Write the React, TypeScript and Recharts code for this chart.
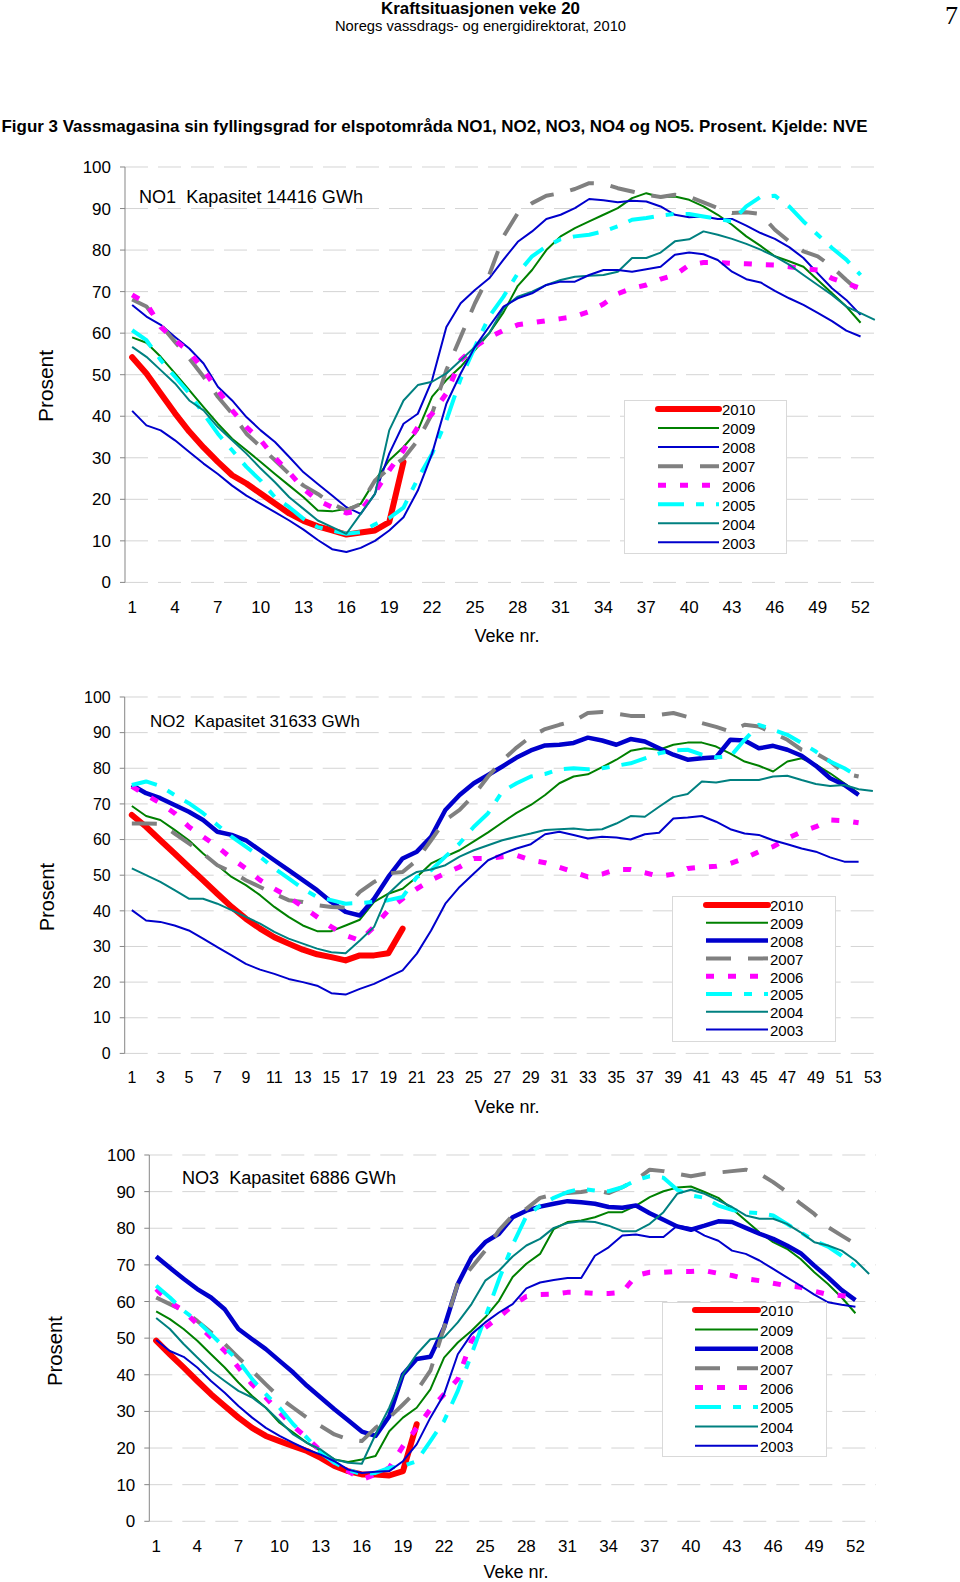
import React from 'react';
import { LineChart, Line, XAxis, YAxis, CartesianGrid } from 'recharts';

const FONT = "'Liberation Sans', Arial, Helvetica, sans-serif";

// ---------- categories / ticks ----------
const WEEKS: number[] = Array.from({ length: 53 }, (_, i) => i + 1);
const BOUNDARY_TICKS: number[] = [0.5, ...WEEKS.map((w) => w + 0.5)];
const Y_TICKS = [0, 10, 20, 30, 40, 50, 60, 70, 80, 90, 100];
const X_LABELS_3 = [1, 4, 7, 10, 13, 16, 19, 22, 25, 28, 31, 34, 37, 40, 43, 46, 49, 52];
const X_LABELS_2 = [1, 3, 5, 7, 9, 11, 13, 15, 17, 19, 21, 23, 25, 27, 29, 31, 33, 35, 37, 39, 41, 43, 45, 47, 49, 51, 53];
const YEARS = ['2010', '2009', '2008', '2007', '2006', '2005', '2004', '2003'];

// ---------- NO1 ----------
const no1_2010 = [54.2, 50.3, 45.5, 40.7, 36.3, 32.5, 29, 25.8, 23.8, 21.4, 19, 16.6, 14.8, 13.5, 12.5, 11.5, 12, 12.5, 14.5, 29];
const no1_2009 = [59, 57.7, 54.3, 50.3, 46.3, 42.2, 38.2, 34.6, 31.8, 29, 26.1, 23.3, 20.5, 17.3, 17.1, 17.7, 18.9, 24.5, 29.4, 32.6, 36.6, 44.7, 48.7, 51.9, 55.9, 60, 65, 71.4, 75.2, 80, 83.3, 85.3, 86.9, 88.5, 90.1, 92.5, 93.7, 92.7, 92.9, 92.1, 90.5, 88.5, 86.1, 83.3, 81, 78.5, 77.3, 76, 72.8, 69.6, 66.4, 62.5];
const no1_2008 = [66.8, 64, 62, 59.1, 56.3, 52.7, 47.1, 43.8, 39.8, 36.6, 33.8, 30.2, 26.5, 23.7, 20.9, 18.1, 16.5, 21.3, 31, 38.2, 40.6, 48.7, 61.5, 67.2, 70.4, 73.2, 77.7, 82, 84.5, 87.5, 88.5, 90.1, 92.3, 92, 91.5, 91.9, 91.7, 90.5, 88.5, 87.9, 88.1, 87.5, 87.5, 85.9, 84.1, 82.7, 80.7, 78.1, 74.4, 70.8, 68, 64.4];
const no1_2007 = [68.1, 66.4, 62, 57.9, 53.9, 49.5, 44.7, 40.6, 35.8, 32.6, 29.4, 26.1, 23.3, 21.3, 18.9, 17.3, 18.9, 24.5, 27.5, 29.8, 34.2, 40.6, 51.1, 59.1, 67.2, 74, 83.3, 88.9, 91.3, 93.1, 93.7, 94.7, 96.1, 96, 94.9, 94.1, 93.3, 92.8, 93.3, 92.8, 91.5, 90.1, 88.9, 89.1, 88.7, 84.9, 82.1, 79.7, 78.5, 76, 72.8, 69.8];
const no1_2006 = [69.2, 67.2, 61.5, 58.3, 55.5, 51.1, 46.3, 41.4, 37.4, 34.2, 30, 26.5, 22.5, 19.7, 18.1, 16.7, 17.3, 21.7, 27, 31.8, 37.4, 40.6, 45.5, 53.5, 56.7, 59, 60.7, 62, 62.5, 63, 63.5, 64, 65.2, 67, 69.5, 70.8, 71.6, 73, 74, 76.4, 77, 77, 76.8, 76.7, 76.5, 76.4, 76, 75.5, 75.2, 73.2, 72, 70.8];
const no1_2005 = [60.7, 58.3, 53.5, 49.5, 45.5, 40.6, 35.8, 31.8, 27.8, 24.5, 20.5, 18.1, 15.3, 13.3, 12.5, 11.7, 12.1, 14, 15.5, 18, 25, 31, 39, 49, 56.7, 64, 68.8, 74.4, 78.5, 80.9, 82.6, 83.3, 83.7, 84.5, 85.7, 87.3, 87.7, 88.3, 88.7, 88.7, 88.1, 87.5, 86.9, 90.5, 92.8, 93.1, 90.5, 86.9, 83.7, 80.5, 77.7, 74];
const no1_2004 = [56.7, 54.3, 51.1, 47.9, 43.8, 41.4, 37.4, 34.2, 31, 27.4, 24.1, 20.5, 17.7, 14.9, 13.3, 11.7, 16.5, 21.3, 36.6, 43.8, 47.5, 48.3, 50.3, 53.5, 56.7, 60, 66, 68.8, 70, 71.6, 72.8, 73.6, 73.8, 74, 74.8, 78.1, 78.1, 79.4, 82.1, 82.6, 84.5, 83.7, 82.7, 81.5, 80.1, 78.5, 76.5, 74, 71.6, 69.2, 66.4, 64.8, 63.2];
const no1_2003 = [41.3, 37.8, 36.6, 34.2, 31.4, 28.6, 26.1, 23.3, 20.9, 18.9, 16.9, 14.9, 12.7, 10.2, 8, 7.3, 8.3, 10, 12.5, 15.7, 22.1, 31, 43, 50.3, 56.7, 61.6, 66.4, 68.4, 69.6, 71.6, 72.4, 72.4, 74, 75.2, 75.2, 74.8, 75.4, 76, 78.9, 79.4, 79, 77.6, 74.8, 73, 72.2, 70.2, 68.4, 66.8, 64.9, 62.9, 60.6, 59.2];

// ---------- NO2 ----------
const no2_2010 = [66.9, 63.6, 59.8, 56.1, 52.3, 48.6, 44.8, 41.1, 37.8, 35, 32.6, 30.8, 29.1, 27.8, 27, 26.1, 27.5, 27.5, 28.1, 35];
const no2_2009 = [69.4, 66.6, 65.5, 62.7, 59.8, 56.1, 52.8, 49.5, 47.2, 44.4, 41.1, 38.3, 35.9, 34.3, 34.3, 35.9, 37.5, 42.5, 44.8, 46.2, 49.5, 53.3, 55.2, 57, 59.5, 62, 64.8, 67.5, 69.7, 72.5, 75.8, 77.7, 78.3, 80.3, 82.4, 84.9, 85.6, 85.2, 86.6, 87.2, 87.2, 86.1, 84.1, 81.9, 80.7, 79.1, 81.9, 82.8, 81, 78.6, 75.8, 73];
const no2_2008 = [75.3, 73, 71.6, 69.7, 67.8, 65.5, 62.2, 61.3, 59.8, 57, 54.2, 51.4, 48.6, 45.8, 42.5, 39.7, 38.7, 43.4, 49.5, 54.7, 56.6, 60.8, 68.3, 72.5, 75.8, 78.1, 80.5, 83, 85, 86.4, 86.6, 87.1, 88.6, 87.8, 86.6, 88.2, 87.5, 85.6, 83.8, 82.4, 82.8, 83.1, 88, 87.8, 85.6, 86.3, 85.2, 83.5, 80.7, 77.2, 75.3, 72.5];
const no2_2007 = [64.5, 64.5, 64.4, 61.7, 58.9, 56.1, 52.8, 50.9, 48.6, 46.7, 44.8, 43, 42.5, 41.6, 41.1, 40.9, 45.3, 48.1, 50.5, 50.9, 54.2, 59.8, 65.5, 68.3, 72.5, 77.7, 82.2, 85.8, 88.9, 91, 92.2, 93.2, 95.5, 95.8, 95.3, 94.7, 94.7, 95, 95.5, 94.4, 92.7, 91.6, 90.3, 92.2, 91.7, 89.9, 88, 85.2, 84.2, 81.9, 78.6, 77.7];
const no2_2006 = [74.9, 72.5, 70.2, 67.4, 63.6, 60.8, 58, 54.7, 51.9, 48.6, 46.2, 43.9, 41.1, 38.3, 35.5, 33.1, 31.7, 35.5, 40.2, 43.4, 46.2, 48.6, 50.5, 52.3, 54.7, 54.7, 55.2, 55.6, 54.2, 53.5, 52.2, 50.9, 49.5, 50.3, 51.6, 51.6, 50.7, 49.7, 50.3, 51.9, 52.3, 52.5, 53.3, 54.7, 56.6, 58, 60.3, 62.2, 63.6, 65.5, 65.3, 64.7];
const no2_2005 = [75.3, 76.3, 75, 72.5, 70.2, 67.4, 64.1, 60.8, 58, 55.2, 51.9, 49.1, 46.2, 43.9, 43, 42, 42.2, 42.5, 43, 43.9, 49.5, 51.4, 55.2, 58.9, 63.6, 67.4, 73.5, 75.8, 77.7, 78.4, 79.7, 80, 79.7, 80, 80.7, 81.4, 82.8, 84.2, 85, 85.2, 83.8, 83.1, 83.3, 88, 92.2, 90.8, 89.4, 87.1, 84.7, 81.9, 80, 77.7];
const no2_2004 = [51.9, 50, 48.1, 45.8, 43.4, 43.4, 42, 40.2, 38.3, 36.4, 34.1, 32.2, 30.8, 29.4, 28.4, 28.1, 31.7, 35.5, 44.8, 48.6, 50.9, 51.6, 52.8, 55.2, 57, 58.4, 59.8, 60.8, 61.7, 62.7, 62.9, 63.1, 62.7, 62.9, 64.5, 66.6, 66.4, 69.2, 71.9, 72.8, 76.3, 76, 76.7, 76.7, 76.7, 77.7, 77.9, 76.7, 75.6, 75, 75.3, 74.1, 73.6];
const no2_2003 = [40.2, 37.3, 36.9, 35.9, 34.5, 32.2, 29.8, 27.5, 25.1, 23.5, 22.3, 20.9, 20, 19, 16.9, 16.5, 18.1, 19.5, 21.4, 23.3, 28, 34.5, 42, 46.7, 50.5, 54.2, 56, 57.5, 58.7, 61.5, 62.2, 61.3, 60.3, 60.8, 60.6, 60, 61.5, 61.9, 65.9, 66.2, 66.6, 65, 62.9, 61.7, 61.3, 59.8, 58.7, 57.5, 56.6, 55, 53.8, 53.8];

// ---------- NO3 ----------
const no3_2010 = [49.3, 45.6, 42, 38.3, 34.7, 31.5, 28.3, 25.5, 23.3, 21.9, 20.5, 19.2, 17.3, 15.1, 13.7, 12.8, 12.8, 12.5, 13.7, 26.5];
const no3_2009 = [57.3, 55.2, 52.5, 49.3, 45.6, 42, 37.9, 34.2, 31, 26.9, 24.2, 21.4, 19.2, 16.9, 16.2, 16.9, 17.8, 24.6, 28.3, 31, 36, 44.7, 48.8, 52, 55.7, 60.2, 66.7, 70.3, 73, 79.8, 81.7, 82.1, 83, 84.4, 84.4, 86.2, 88.5, 90.1, 91.1, 91.4, 89.9, 88.3, 85.3, 82.1, 78.9, 76.2, 74.4, 71.6, 68, 64.8, 61.1, 56.8];
const no3_2008 = [72.3, 69.2, 66.2, 63.4, 61.1, 57.9, 52.5, 49.7, 47, 43.8, 40.6, 37, 33.8, 30.6, 27.6, 24.5, 23.3, 28.7, 40.1, 44.3, 44.9, 52.9, 64.8, 72.1, 76.2, 78.5, 83, 84.8, 85.9, 86.7, 87.4, 87.1, 86.7, 85.8, 85.6, 86.2, 84.1, 82.3, 80.5, 79.6, 80.7, 81.9, 81.7, 80.1, 78.5, 77.1, 75.3, 73.2, 69.8, 66.6, 63.1, 60.4];
const no3_2007 = [61.1, 59.3, 57.5, 54.7, 51.6, 48.4, 44.7, 41.1, 37.4, 33.8, 31, 28.3, 26, 23.7, 22.4, 21.9, 25.5, 28.3, 31.9, 35.6, 41.1, 52.9, 64.8, 69.3, 73.9, 79.4, 83.5, 85.3, 88.3, 89.2, 89.6, 89.9, 90.5, 89.6, 91.2, 93.2, 96, 95.6, 94.9, 94.2, 94.9, 95.2, 95.6, 96, 94.9, 92.6, 89.9, 86.7, 83.9, 80.3, 78, 75.7];
const no3_2006 = [63.4, 59.8, 57.5, 53.8, 50.2, 46.5, 42, 37.4, 33.8, 29.7, 26, 22.8, 19.2, 16, 13.7, 11.4, 12.8, 14.6, 20.5, 25.5, 30.6, 34.7, 38.8, 49.3, 52.9, 55.7, 58.9, 61.4, 61.9, 62, 62.5, 62.5, 62.2, 62.2, 62.5, 67.1, 68, 68, 68.2, 68.2, 68.4, 67.7, 67.1, 66.2, 65.7, 65, 64.3, 63.9, 62.8, 61.9, 61.6, 61.3];
const no3_2005 = [64.3, 61.1, 57.5, 54.7, 51.1, 47.4, 43.8, 38.8, 34.7, 31, 26.5, 22.8, 18.7, 16, 14.1, 12.8, 13.2, 14.6, 15.1, 16.4, 21.9, 27.4, 35.6, 45.6, 55.7, 66, 75.5, 83.3, 86.2, 88.3, 89.9, 90.8, 90.3, 90.1, 91.2, 93.1, 94.2, 93.8, 90.5, 89, 88.3, 86.2, 85, 84.4, 84.1, 83.5, 81.2, 78.9, 76.6, 75, 72.5, 69.5];
const no3_2004 = [55.5, 52.5, 48.4, 44.7, 41.1, 38.3, 35.6, 33.8, 31, 27.4, 23.7, 21.4, 19.6, 16.9, 16, 15.7, 23.7, 31, 40.1, 45.6, 49.7, 50.2, 54.3, 59.3, 65.7, 68.4, 72.3, 75.3, 77.1, 80.1, 81.4, 81.9, 81.7, 80.7, 79.2, 79.2, 81.2, 84.4, 89.4, 90.5, 89.4, 87.6, 85.8, 83.5, 82.6, 82.6, 81.2, 78.9, 76.2, 75.3, 73.9, 71.2, 67.5];
const no3_2003 = [49.5, 46.5, 44.9, 42, 38.3, 35.1, 31.5, 28.3, 25.5, 23.3, 21.4, 19.6, 18.2, 16.4, 14.1, 13.2, 13.5, 13.7, 16.4, 21, 28.3, 34.7, 45.6, 51.1, 54.3, 57, 59.3, 63.6, 65.2, 65.9, 66.4, 66.4, 72.5, 74.8, 78, 78.3, 77.6, 77.6, 80.7, 80.1, 78, 76.6, 73.9, 73, 71.2, 68.9, 66.6, 64.3, 61.9, 59.8, 59.1, 58.6];

// ---------- styles ----------
type SStyle = { color: string; width: number; dash?: string; cap?: 'round' | 'butt' };
const styleFor = (year: string, thick2008: boolean): SStyle => {
  switch (year) {
    case '2010': return { color: '#FF0000', width: 6, cap: 'round' };
    case '2009': return { color: '#008000', width: 2 };
    case '2008': return { color: '#0000CC', width: thick2008 ? 4.5 : 2 };
    case '2007': return { color: '#808080', width: 4, dash: '25 17' };
    case '2006': return { color: '#FF00FF', width: 5, dash: '8 14' };
    case '2005': return { color: '#00FFFF', width: 4, dash: '26 12 8 12' };
    case '2004': return { color: '#008080', width: 2 };
    default: return { color: '#0000CC', width: 2 };
  }
};

const buildRows = (series: Record<string, number[]>) =>
  WEEKS.map((w, i) => {
    const row: Record<string, number | null> = { week: w };
    YEARS.forEach((y) => {
      const v = series[y][i];
      row['y' + y] = v === undefined ? null : v;
    });
    return row;
  });

const AXIS = '#868686';

type PanelProps = {
  plotLeft: number; plotRight: number; plotTop: number; plotBottom: number;
  series: Record<string, number[]>; labels: number[]; fontSize: number; labelMargin: number; thick2008: boolean;
};

function Panel(p: PanelProps) {
  const rows = buildRows(p.series);
  const height = p.plotBottom - p.plotTop + 80;
  const tickStyle = { fontSize: p.fontSize, fill: '#000', fontFamily: FONT };
  return (
    <div style={{ position: 'absolute', left: 0, top: p.plotTop - 20 }}>
      <LineChart width={960} height={height} data={rows}
        margin={{ top: 20, right: 960 - p.plotRight, bottom: 29, left: p.plotLeft - 60 }}>
        <CartesianGrid xAxisId="t" vertical={false} stroke="#D4D4D4" strokeDasharray="23 10" />
        <YAxis domain={[0, 100]} ticks={Y_TICKS} interval={0} width={60}
          axisLine={{ stroke: AXIS }} tickLine={{ stroke: AXIS }} tickSize={5} tickMargin={9} tick={tickStyle} />
        <XAxis xAxisId="t" dataKey="week" type="number" domain={[0.5, 53.5]} ticks={BOUNDARY_TICKS} interval={0}
          height={0} tick={false} tickSize={5} axisLine={{ stroke: AXIS }} tickLine={{ stroke: AXIS }} allowDataOverflow />
        <XAxis xAxisId="l" dataKey="week" type="number" domain={[0.5, 53.5]} ticks={p.labels} interval={0}
          height={30} axisLine={false} tickLine={false} tickSize={0} tickMargin={p.labelMargin} tick={tickStyle} allowDataOverflow />
        {YEARS.map((y) => {
          const s = styleFor(y, p.thick2008);
          return (
            <Line key={y} xAxisId="t" type="linear" dataKey={'y' + y} stroke={s.color} strokeWidth={s.width}
              strokeDasharray={s.dash} strokeLinecap={s.cap || 'butt'} strokeLinejoin="round"
              dot={false} activeDot={false} isAnimationActive={false} connectNulls={false} />
          );
        })}
      </LineChart>
    </div>
  );
}

type LegendProps = { x: number; y: number; w: number; h: number; lx1: number; lx2: number; tx: number; row0: number; step: number; thick2008: boolean };

function LegendBox(l: LegendProps) {
  return (
    <g>
      <rect x={l.x + 0.5} y={l.y + 0.5} width={l.w} height={l.h} fill="#fff" stroke="#D9D9D9" strokeWidth={1} />
      {YEARS.map((yr, i) => {
        const s = styleFor(yr, l.thick2008);
        const cy = l.row0 + i * l.step;
        return (
          <g key={yr}>
            <line x1={l.lx1} x2={l.lx2} y1={cy - 1} y2={cy - 1} stroke={s.color} strokeWidth={s.width}
              strokeDasharray={s.dash} strokeLinecap={s.cap || 'butt'} />
            <text x={l.tx} y={cy + 5.3} fontSize={15} fontFamily={FONT} fill="#000">{yr}</text>
          </g>
        );
      })}
    </g>
  );
}

export default function App() {
  const s1 = { '2010': no1_2010, '2009': no1_2009, '2008': no1_2008, '2007': no1_2007, '2006': no1_2006, '2005': no1_2005, '2004': no1_2004, '2003': no1_2003 };
  const s2 = { '2010': no2_2010, '2009': no2_2009, '2008': no2_2008, '2007': no2_2007, '2006': no2_2006, '2005': no2_2005, '2004': no2_2004, '2003': no2_2003 };
  const s3 = { '2010': no3_2010, '2009': no3_2009, '2008': no3_2008, '2007': no3_2007, '2006': no3_2006, '2005': no3_2005, '2004': no3_2004, '2003': no3_2003 };
  const txt = { fontFamily: FONT, fill: '#000' } as const;
  return (
    <div style={{ position: 'absolute', left: 0, top: 0, width: 960, height: 1582, background: '#fff', overflow: 'hidden' }}>
      <svg width={960} height={1582} style={{ position: 'absolute', left: 0, top: 0 }}>
        <text x={480.5} y={14} textAnchor="middle" fontSize={17} fontWeight="bold" textLength={199} lengthAdjust="spacingAndGlyphs" {...txt}>Kraftsituasjonen veke 20</text>
        <text x={480.5} y={31} textAnchor="middle" fontSize={15} textLength={291} lengthAdjust="spacingAndGlyphs" {...txt}>Noregs vassdrags- og energidirektorat, 2010</text>
        <text x={945} y={24} fontSize={26} fontFamily="'Liberation Serif', serif" fill="#000">7</text>
        <text x={1.5} y={131.5} fontSize={17} fontWeight="bold" textLength={866} lengthAdjust="spacingAndGlyphs" {...txt}>Figur 3 Vassmagasina sin fyllingsgrad for elspotområda NO1, NO2, NO3, NO4 og NO5. Prosent. Kjelde: NVE</text>
        <text x={139} y={202.7} fontSize={18.5} textLength={224} lengthAdjust="spacingAndGlyphs" style={{ whiteSpace: 'pre' }} {...txt}>{'NO1  Kapasitet 14416 GWh'}</text>
        <text x={150} y={726.7} fontSize={17} textLength={210} lengthAdjust="spacingAndGlyphs" style={{ whiteSpace: 'pre' }} {...txt}>{'NO2  Kapasitet 31633 GWh'}</text>
        <text x={182} y={1184} fontSize={17.5} textLength={214} lengthAdjust="spacingAndGlyphs" style={{ whiteSpace: 'pre' }} {...txt}>{'NO3  Kapasitet 6886 GWh'}</text>
        <text transform="translate(53,386) rotate(-90)" textAnchor="middle" fontSize={21} textLength={72} lengthAdjust="spacingAndGlyphs" {...txt}>Prosent</text>
        <text transform="translate(54,897) rotate(-90)" textAnchor="middle" fontSize={20} textLength={68} lengthAdjust="spacingAndGlyphs" {...txt}>Prosent</text>
        <text transform="translate(62,1351) rotate(-90)" textAnchor="middle" fontSize={20} textLength={70} lengthAdjust="spacingAndGlyphs" {...txt}>Prosent</text>
        <text x={507} y={642} textAnchor="middle" fontSize={18} {...txt}>Veke nr.</text>
        <text x={507} y={1113} textAnchor="middle" fontSize={18} {...txt}>Veke nr.</text>
        <text x={516} y={1578} textAnchor="middle" fontSize={18} {...txt}>Veke nr.</text>
      </svg>
      <Panel plotLeft={125} plotRight={882} plotTop={167.3} plotBottom={581.7} series={s1} labels={X_LABELS_3} fontSize={17} labelMargin={19} thick2008={false} />
      <Panel plotLeft={124.7} plotRight={880} plotTop={697.3} plotBottom={1052.7} series={s2} labels={X_LABELS_2} fontSize={16} labelMargin={18} thick2008={true} />
      <Panel plotLeft={149.3} plotRight={876} plotTop={1154.7} plotBottom={1520} series={s3} labels={X_LABELS_3} fontSize={17} labelMargin={19} thick2008={true} />
      <svg width={960} height={1582} style={{ position: 'absolute', left: 0, top: 0, pointerEvents: 'none' }}>
        <LegendBox x={624} y={400} w={162} h={153} lx1={658} lx2={719} tx={722} row0={410} step={19.05} thick2008={false} />
        <LegendBox x={672} y={896} w={163} h={145} lx1={706} lx2={768} tx={770} row0={906} step={17.8} thick2008={true} />
        <LegendBox x={662} y={1302} w={164} h={154} lx1={695} lx2={758} tx={760} row0={1311} step={19.4} thick2008={true} />
      </svg>
    </div>
  );
}
